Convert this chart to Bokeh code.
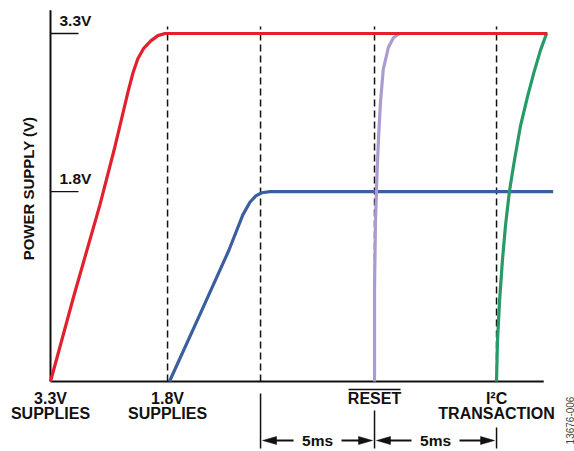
import math
from bokeh.plotting import figure
from bokeh.models import Range1d
from bokeh.core.properties import value
from bokeh.embed import file_html
from bokeh.resources import INLINE

# ---------------- data ----------------
time_33v = [0.0, 1.0, 2.1, 2.7, 3.3, 3.5, 3.7, 3.95, 4.25, 4.55, 4.85, 21.05]
volt_33v = [0.0, 0.82, 1.68, 2.2, 2.76, 2.93, 3.06, 3.16, 3.23, 3.28, 3.3, 3.3]

time_18v = [5.04, 6.3, 7.55, 8.15, 8.45, 8.7, 8.95, 9.3, 21.3]
volt_18v = [0.0, 0.62, 1.24, 1.58, 1.7, 1.76, 1.79, 1.8, 1.8]

time_reset = [13.73, 13.73, 13.77, 13.84, 13.9, 13.98, 14.1, 14.32, 14.53, 14.79]
volt_reset = [0.0, 0.89, 1.52, 2.0, 2.31, 2.64, 2.96, 3.17, 3.26, 3.3]

time_i2c = [18.9, 18.94, 19.03, 19.15, 19.28, 19.45, 19.66, 19.92, 20.21, 20.47, 20.76, 21.02]
volt_i2c = [0.0, 0.39, 0.77, 1.15, 1.48, 1.81, 2.1, 2.43, 2.7, 2.92, 3.14, 3.3]

rail_levels = [3.3, 1.8]
rail_labels = ["3.3V", "1.8V"]

event_times = [0.0, 4.96, 8.9, 13.73, 18.9]
event_label_top = ["3.3V", "1.8V", "", "RESET", "I\u00b2C"]
event_label_bottom = ["SUPPLIES", "SUPPLIES", "", "", "TRANSACTION"]

delay_starts = [8.9, 13.73]
delay_ends = [13.73, 18.9]
delay_labels = ["5ms", "5ms"]

axis_end_ms = 20.9
axis_top_v = 3.52
y_title = "POWER SUPPLY (V)"
figure_id = "13676-006"

# ---------------- layout ----------------
W, H = 574, 451
PX_PER_MS = 23.6
PX_PER_V = 105.45
ORIGIN_X = 50      # canvas px of t=0
ORIGIN_Y = 70      # canvas px (from bottom) of V=0


def dt(px):
    return px / PX_PER_MS


def dv(px):
    return px / PX_PER_V


X0 = -ORIGIN_X / PX_PER_MS
X1 = X0 + W / PX_PER_MS
Y0 = -ORIGIN_Y / PX_PER_V
Y1 = Y0 + H / PX_PER_V

FONT = value("Liberation Sans")
INK = "#111111"

p = figure(width=W, height=H, x_range=Range1d(X0, X1), y_range=Range1d(Y0, Y1),
           output_backend="svg", toolbar_location=None,
           x_axis_type=None, y_axis_type=None, min_border=0,
           outline_line_color=None, background_fill_color="white",
           border_fill_color="white")

# axes lines
p.segment(x0=[0.0, 0.0], y0=[0.0, 0.0], x1=[0.0, axis_end_ms], y1=[axis_top_v, 0.0],
          line_color=INK, line_width=2)

# rail ticks and labels
p.segment(x0=[0.0] * len(rail_levels), y0=rail_levels,
          x1=[dt(28)] * len(rail_levels), y1=rail_levels,
          line_color=INK, line_width=1.3)
p.text(x=[dt(9)] * len(rail_levels), y=[v + dv(13.5) for v in rail_levels], text=rail_labels,
       text_font=FONT, text_font_style="bold", text_font_size="15.5px",
       text_align="left", text_baseline="middle", text_color=INK)

# y title
p.text(x=[-dt(22)], y=[dv(193)], text=[y_title], angle=math.pi / 2,
       text_font=FONT, text_font_style="bold", text_font_size="15px",
       text_align="center", text_baseline="middle", text_color=INK)

# dashed event markers
marker_t = event_times[1:]
p.segment(x0=marker_t, y0=[0.0] * len(marker_t), x1=marker_t,
          y1=[3.3 + dv(7)] * len(marker_t),
          line_color=INK, line_width=1.5, line_dash="7 4")

# solid extension lines below the axis
ext_start_px = [12, 29, 46]
ext_t = event_times[2:]
p.segment(x0=ext_t, y0=[-dv(s) for s in ext_start_px], x1=ext_t,
          y1=[-dv(67)] * len(ext_t), line_color=INK, line_width=1.5)

# curves
p.line(time_33v, volt_33v, line_color="#e3202d", line_width=3.2)
p.line(time_18v, volt_18v, line_color="#3b5f9e", line_width=3.2)
p.line(time_reset, volt_reset, line_color="#ab9ccf", line_width=3.2)
p.line(time_i2c, volt_i2c, line_color="#279a68", line_width=3.2)
# redraw the flat 3.3V rail over the reset curve's top
p.line([time_33v[-2], time_33v[-1]], [volt_33v[-2], volt_33v[-1]],
       line_color="#e3202d", line_width=3.2)

# bottom event labels
p.text(x=event_times, y=[-dv(16.5)] * len(event_times), text=event_label_top,
       text_font=FONT, text_font_style="bold", text_font_size="16px",
       text_align="center", text_baseline="middle", text_color=INK)
p.text(x=event_times, y=[-dv(31.5)] * len(event_times), text=event_label_bottom,
       text_font=FONT, text_font_style="bold", text_font_size="16px",
       text_align="center", text_baseline="middle", text_color=INK)
# overline on RESET
t_reset = event_times[3]
p.segment(x0=[t_reset - dt(26)], y0=[-dv(8)], x1=[t_reset + dt(26)], y1=[-dv(8)],
          line_color=INK, line_width=1.5)

# delay arrows
ay = -dv(59)
shaft_x0, shaft_x1, head_xs, head_ys, mids = [], [], [], [], []
for a, b in zip(delay_starts, delay_ends):
    mid = (a + b) / 2
    mids.append(mid)
    for tip, d, start in ((a + dt(2), -1, mid - dt(24)), (b - dt(2), 1, mid + dt(24))):
        shaft_x0.append(start)
        shaft_x1.append(tip - d * dt(8))
        head_xs.append([tip, tip - d * dt(14), tip - d * dt(14)])
        head_ys.append([ay, ay + dv(4), ay - dv(4)])
p.segment(x0=shaft_x0, y0=[ay] * len(shaft_x0), x1=shaft_x1, y1=[ay] * len(shaft_x1),
          line_color=INK, line_width=2)
p.patches(xs=head_xs, ys=head_ys, fill_color=INK, line_color=INK, line_width=0.5)
p.text(x=mids, y=[ay] * len(mids), text=delay_labels,
       text_font=FONT, text_font_style="bold", text_font_size="15.5px",
       text_align="center", text_baseline="middle", text_color=INK)

# figure id
p.text(x=[dt(519)], y=[-dv(39)], text=[figure_id], angle=math.pi / 2,
       text_font=FONT, text_font_size="10px",
       text_align="center", text_baseline="middle", text_color="#444444")

open("out.html", "w").write(file_html(p, INLINE))
